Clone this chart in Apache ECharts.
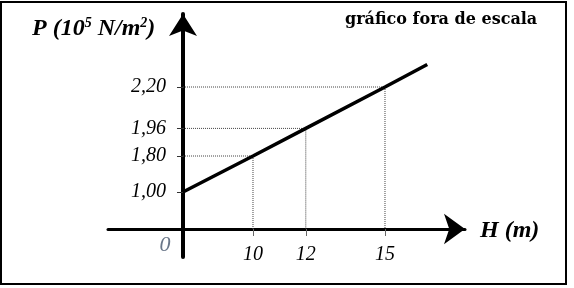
<!DOCTYPE html>
<html>
<head>
<meta charset="utf-8">
<script src="https://cdn.jsdelivr.net/npm/echarts@6/dist/echarts.min.js"></script>
<style>
  html, body { margin: 0; padding: 0; background: #fff; }
  #chart { width: 574px; height: 288px; }
</style>
</head>
<body>
<div id="chart"></div>
<script>
// ---- data ----
const H_POINTS = [10, 12, 15];              // H (m) of the marked points
const P_POINTS = [1.80, 1.96, 2.20];        // P (10^5 N/m^2) of the marked points
const LINE_H = [0, 10, 12, 15, 16.6];       // line P(H)
const LINE_P = [1.00, 1.80, 1.96, 2.20, 2.33];
const X_TICKS = [10, 12, 15];
const X_TICK_LABELS = ['10', '12', '15'];
const Y_TICKS = [1.00, 1.80, 1.96, 2.20];
const Y_TICK_LABELS = ['1,00', '1,80', '1,96', '2,20'];
const ORIGIN_LABEL = '0';
const X_NAME = 'H (m)';
const NOTE = 'gráfico fora de escala';

// ---- "fora de escala": piecewise compression of the low ranges ----
const X_KNOTS = [[0, 0], [10, 2.6515]];
const Y_KNOTS = [[0, 0], [1, 0.2145], [1.8, 0.4232]];
function squash(v, knots) {
  if (v <= knots[0][0]) return knots[0][1] + (v - knots[0][0]);
  for (let i = 0; i < knots.length - 1; i++) {
    const a = knots[i], b = knots[i + 1];
    if (v <= b[0]) return a[1] + (v - a[0]) * (b[1] - a[1]) / (b[0] - a[0]);
  }
  const l = knots[knots.length - 1];
  return l[1] + (v - l[0]);
}
const sx = v => squash(v, X_KNOTS);
const sy = v => squash(v, Y_KNOTS);

const xTickPos = X_TICKS.map(sx);
const yTickPos = Y_TICKS.map(sy);
function labelFor(v, pos, labels) {
  let best = 0;
  for (let i = 1; i < pos.length; i++) if (Math.abs(pos[i] - v) < Math.abs(pos[best] - v)) best = i;
  return labels[best];
}

const serif = '"Liberation Serif", "DejaVu Serif", serif';

const guideSeries = H_POINTS.map((h, i) => ({
  type: 'line',
  silent: true,
  symbol: 'none',
  z: 1,
  lineStyle: { color: '#444', width: 1, type: [1, 1] },
  data: [[sx(0), sy(P_POINTS[i])], [sx(h), sy(P_POINTS[i])], [sx(h), sy(0)]]
}));

const chart = echarts.init(document.getElementById('chart'), null, { renderer: 'canvas' });
chart.setOption({
  animation: false,
  backgroundColor: '#fff',
  grid: { left: 108, right: 109, top: 14, bottom: 31, containLabel: false, outerBoundsMode: 'none' },
  xAxis: {
    type: 'value',
    min: -2.8409, max: 10.682,
    splitLine: { show: false },
    axisLine: { onZero: true, symbol: ['none', 'arrow'], symbolSize: [23, 21],
      lineStyle: { color: '#000', width: 3 } },
    axisTick: { show: true, customValues: xTickPos, length: 7, lineStyle: { color: '#666', width: 1 } },
    axisLabel: { show: true, customValues: xTickPos, margin: -12,
      formatter: v => labelFor(v, xTickPos, X_TICK_LABELS),
      fontFamily: serif, fontStyle: 'italic', fontSize: 20, color: '#000' }
  },
  yAxis: {
    type: 'value',
    min: -0.1623, max: 1.2464,
    splitLine: { show: false },
    axisLine: { onZero: true, symbol: ['none', 'arrow'], symbolSize: [21, 22],
      lineStyle: { color: '#000', width: 4 } },
    axisTick: { show: true, customValues: yTickPos, length: 6, lineStyle: { color: '#333', width: 1 } },
    axisLabel: { show: true, customValues: yTickPos, margin: -58,
      formatter: v => labelFor(v, yTickPos, Y_TICK_LABELS),
      fontFamily: serif, fontStyle: 'italic', fontSize: 20, color: '#000' }
  },
  series: guideSeries.concat([{
    type: 'line',
    symbol: 'none',
    z: 5,
    lineStyle: { color: '#000', width: 3.5 },
    data: LINE_H.map((h, i) => [sx(h), sy(LINE_P[i])])
  }]),
  graphic: [
    { type: 'rect', shape: { x: 1, y: 2, width: 565, height: 282 },
      style: { fill: 'none', stroke: '#000', lineWidth: 2 }, silent: true },
    { type: 'text', x: 32, y: 29,
      style: { text: '{b|P (10}{s|5}{b| N/m}{s|2}{b|)}', verticalAlign: 'middle',
        rich: {
          b: { fontFamily: serif, fontStyle: 'italic', fontWeight: 'bold', fontSize: 24, fill: '#000', lineHeight: 26 },
          s: { fontFamily: serif, fontStyle: 'italic', fontWeight: 'bold', fontSize: 14, fill: '#000', verticalAlign: 'top', lineHeight: 26 }
        } } },
    { type: 'text', x: 480, y: 231,
      style: { text: X_NAME, verticalAlign: 'middle', fontFamily: serif, fontStyle: 'italic',
        fontWeight: 'bold', fontSize: 24, fill: '#000' } },
    { type: 'text', x: 345, y: 20,
      style: { text: NOTE, verticalAlign: 'middle', fontFamily: '"DejaVu Serif", serif',
        fontWeight: 'bold', fontSize: 16, fill: '#000' } },
    { type: 'text', x: 165, y: 245,
      style: { text: ORIGIN_LABEL, align: 'center', verticalAlign: 'middle', fontFamily: serif,
        fontStyle: 'italic', fontSize: 22, fill: '#6a7789' } }
  ]
});
</script>
</body>
</html>
